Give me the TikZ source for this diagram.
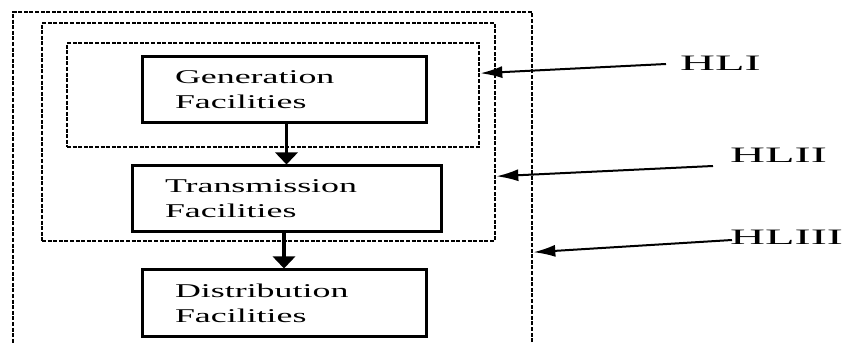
\documentclass[tikz,border=0pt]{standalone}
\usepackage{fontspec}
\setmainfont{Liberation Serif}[FakeStretch=1.84]
\newfontfamily\hlfont{Liberation Serif}[FakeStretch=2.2]
\usetikzlibrary{arrows.meta}

\begin{document}
\begin{tikzpicture}[x=1pt,y=-1pt,
    facility/.style={rectangle,draw,line width=3pt,align=left,inner xsep=33pt,
      minimum height=66pt,font=\fontsize{19.5}{25}\selectfont},
    zone/.style={rectangle,draw,line width=2.6pt,dash pattern=on 4pt off 1.6pt},
    level/.style={font=\hlfont\fontsize{22}{24}\selectfont,anchor=base west,inner sep=0pt},
    flow/.style={line width=3.2pt,-{Triangle[length=12pt,width=22pt]}},
    pointer/.style={line width=2pt,-{Latex[length=22pt,width=12pt]}}
    ]

    \useasboundingbox (0,0) rectangle (846,344);

    \node(z1) [zone,minimum width=412pt,minimum height=104pt] at (273,95) {};
    \node(z2) [zone,minimum width=453pt,minimum height=218pt] at (268.5,132) {};
    \node(z3) [zone,minimum width=519pt,minimum height=360pt] at (272.5,192) {};

    \node(gen) [facility,text width=218pt] at (284,90) {Generation\\Facilities};
    \node(trans) [facility,text width=243pt] at (286.5,199) {Transmission\\Facilities};
    \node(dist) [facility,text width=218pt,minimum height=67pt] at (284,303.5) {Distribution\\Facilities};

    \draw[flow] (gen.south -| trans.north) -- (trans.north);
    \draw[flow] (trans.south -| dist.north) -- (dist.north);

    \foreach \i/\lvl/\lx/\ly/\tx/\ty/\ang in
      {1/HLI/680/71/666/64/6, 2/HLII/730/163/713/166/-11, 3/HLIII/730/245/732/240/-13} {
      \node(l\i) [level] at (\lx,\ly) {\lvl};
      \coordinate(t\i) at (\tx,\ty);
      \draw[pointer] (t\i) -- (z\i.\ang);
    }

  \end{tikzpicture}
\end{document}
